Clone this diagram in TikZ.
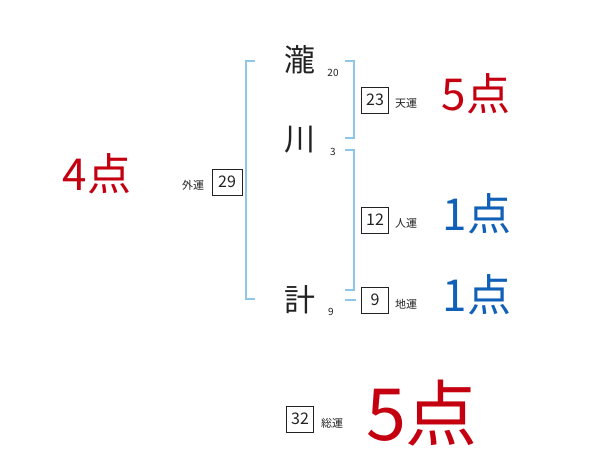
\documentclass[tikz,border=0pt]{standalone}
\usepackage{fontspec}
\setmainfont{Noto Sans CJK JP}
\newfontfamily\jp{Noto Sans CJK JP}
\definecolor{brk}{HTML}{8EC6E6}
\definecolor{scred}{HTML}{C40010}
\definecolor{scblue}{HTML}{1060B8}
\definecolor{ink}{HTML}{222222}
\tikzset{
  brak/.style={draw=brk, line width=1.3pt},
  kanji/.style={font=\jp\fontsize{31}{31}\selectfont, text=ink, inner sep=0pt},
  strokes/.style={font=\jp\fontsize{10}{10}\selectfont, text=ink, inner sep=0pt},
  numbox/.style={draw=ink, line width=0.8pt, minimum width=27pt, minimum height=26pt, inner sep=0pt, font=\jp\fontsize{16}{16}\selectfont, text=ink},
  unlabel/.style={font=\jp\fontsize{11}{11}\selectfont, text=ink, inner sep=0pt},
  score/.style={font=\jp\fontsize{44}{44}\selectfont, inner sep=0pt},
  bigscore/.style={font=\jp\fontsize{72}{72}\selectfont, inner sep=0pt},
}
\begin{document}
\begin{tikzpicture}[x=1pt,y=-1pt]
\useasboundingbox (0,0) rectangle (600,470);
% characters
\node[kanji] (c1) at (300,60) {瀧};
\node[strokes] (s1) at (333,73) {20};
\node[kanji] (c2) at (300,140) {川};
\node[strokes] (s2) at (333,152) {3};
\node[kanji] (c3) at (300,300) {計};
\node[strokes] (s3) at (331,312) {9};
% brackets
\draw[brak] (255,61) -- (246,61) -- (246,299) -- (255,299);
\draw[brak] (345,61) -- (354,61) -- (354,138) -- (345,138);
\draw[brak] (345,150) -- (354,150) -- (354,290) -- (345,290);
\draw[brak] (345,300) -- (356,300);
% boxes
\node[numbox, minimum width=30pt] (gai) at (227,182) {29};
\node[unlabel] (gail) at (193,185) {外運};
\node[numbox] (ten) at (375,100) {23};
\node[unlabel] (tenl) at (406,103) {天運};
\node[numbox] (jin) at (375,220) {12};
\node[unlabel] (jinl) at (406,223) {人運};
\node[numbox] (chi) at (375,300) {9};
\node[unlabel] (chil) at (406,304) {地運};
\node[numbox] (so) at (300,419) {32};
\node[unlabel] (sol) at (332,423) {総運};
% scores
\node[score, text=scred] (p1) at (97,174) {4点};
\node[score, text=scred] (p2) at (476,94) {5点};
\node[score, text=scblue] (p3) at (477,214) {1点};
\node[score, text=scblue] (p4) at (477,295) {1点};
\node[bigscore, text=scred] (p5) at (422,413) {5点};
\end{tikzpicture}
\end{document}
